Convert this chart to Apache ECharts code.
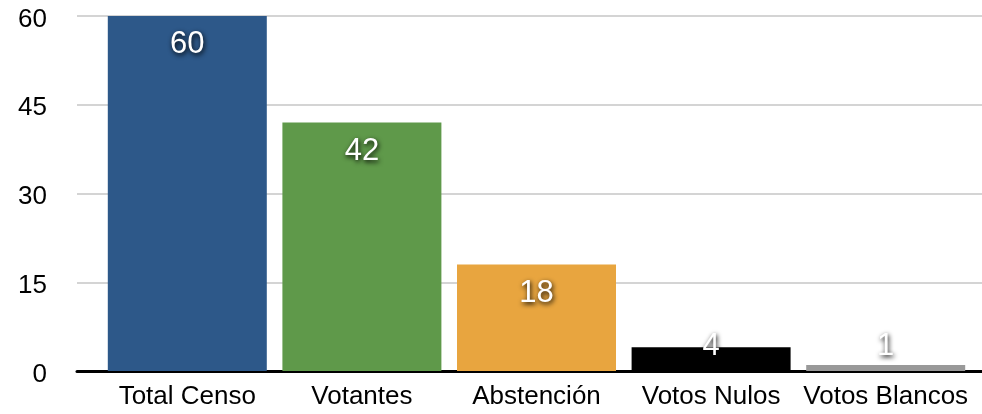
<!DOCTYPE html>
<html>
<head>
<meta charset="utf-8">
<script src="https://cdn.jsdelivr.net/npm/echarts@6/dist/echarts.min.js"></script>
<style>
  html, body { margin: 0; padding: 0; background: #fff; }
  #chart { width: 982px; height: 414px; }
</style>
</head>
<body>
<div id="chart"></div>
<script>
var categories = ['Total Censo', 'Votantes', 'Abstención', 'Votos Nulos', 'Votos Blancos']
var values = [60, 42, 18, 4, 1]
var barColors = ['#2d5889', '#5f994a', '#e8a53f', '#000000', '#999999']
var yTicks = [0, 15, 30, 45, 60]

var font = '"Liberation Sans", Arial, sans-serif'

// small bars get their label pushed up above the bar
var labelPos = function (v) {
  if (v >= 10) return { position: 'insideTop', distance: 13 }
  return { position: 'top', distance: v > 2 ? -15 : 3 }
}

var myChart = echarts.init(document.getElementById('chart'))
myChart.setOption({
  animation: false,
  grid: [
    { left: 77, right: 0, top: 16, bottom: 43 },
    { left: 100, right: 9, top: 16, bottom: 43 }
  ],
  xAxis: [
    {
      gridIndex: 0, type: 'value', min: 0, max: 1,
      axisLine: { show: true, onZero: false, lineStyle: { color: '#000', width: 3 } },
      axisTick: { show: false }, axisLabel: { show: false }, splitLine: { show: false }
    },
    {
      gridIndex: 1, type: 'category', data: categories,
      axisLine: { show: false }, axisTick: { show: false },
      axisLabel: { color: '#000', fontSize: 26, fontFamily: font, margin: 13, interval: 0 }
    }
  ],
  yAxis: [
    {
      gridIndex: 0, type: 'value', min: yTicks[0], max: yTicks[yTicks.length - 1], interval: 15,
      axisLine: { show: false }, axisTick: { show: false },
      axisLabel: {
        margin: 30,
        formatter: function (v) { return '{t|' + v + '}' },
        rich: { t: { color: '#000', fontSize: 26, fontFamily: font, padding: [7, 0, 0, 0] } }
      },
      splitLine: { lineStyle: { color: '#d4d4d4', width: 2 } }
    },
    {
      gridIndex: 1, type: 'value', min: 0, max: 60, show: false
    }
  ],
  series: [
    {
      type: 'bar',
      xAxisIndex: 1,
      yAxisIndex: 1,
      barWidth: 159,
      data: values.map(function (v, i) {
        var lp = labelPos(v)
        return {
          value: v,
          itemStyle: { color: barColors[i] },
          label: { position: lp.position, distance: lp.distance }
        }
      }),
      label: {
        show: true,
        color: '#fff',
        fontSize: 31,
        fontFamily: font,
        textShadowColor: 'rgba(0,0,0,1)',
        textShadowBlur: 5,
        textShadowOffsetX: 1,
        textShadowOffsetY: 2
      }
    }
  ]
})
</script>
</body>
</html>
